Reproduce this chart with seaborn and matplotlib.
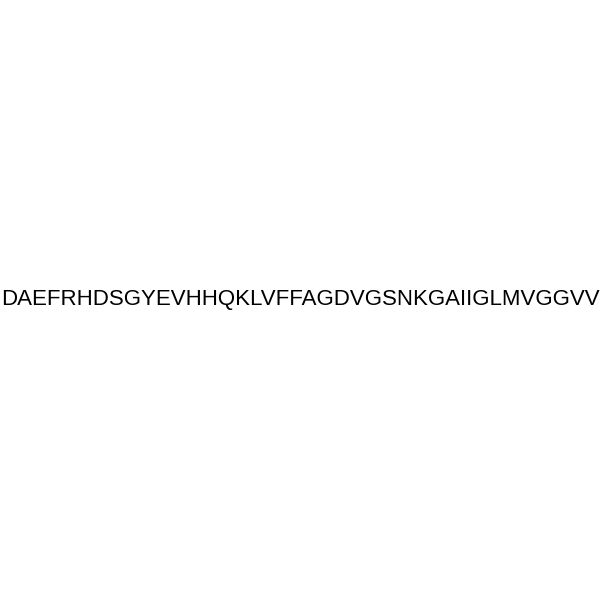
import matplotlib
matplotlib.use("Agg")
import matplotlib.pyplot as plt
import seaborn as sns

# peptide sequence shown as the only content of the image
sequence = "DAEFRHDSGYEVHHQKLVFFAGDVGSNKGAIIGLMVGGVV"

sns.set_theme(style="white")
plt.rcParams['font.family'] = ['Liberation Sans', 'DejaVu Sans']

fig = plt.figure(figsize=(6, 6), dpi=100)
fig.patch.set_facecolor("white")
ax = fig.add_axes([0, 0, 1, 1])
ax.set_axis_off()
ax.set_xlim(0, 1)
ax.set_ylim(0, 1)

ax.text(0.5, 0.5, sequence, ha="center", va="center",
        fontsize=16.0, color="black")

fig.savefig("out.png", dpi=100, facecolor="white")
